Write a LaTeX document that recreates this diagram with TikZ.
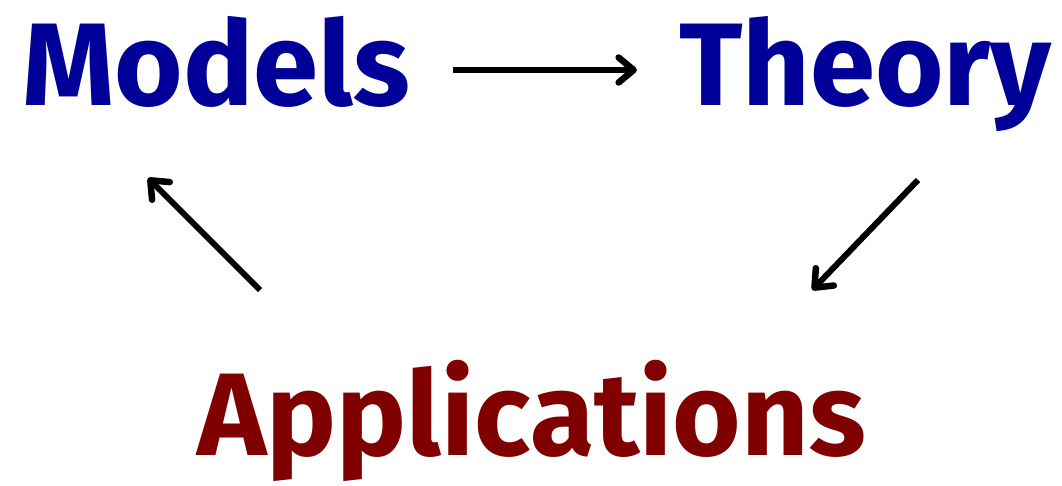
\documentclass[tikz,border=0pt]{standalone}
\usepackage{fontspec}
\setmainfont{Fira Sans}[UprightFont=* Bold]
\usetikzlibrary{arrows.meta}
\definecolor{mblue}{RGB}{0,0,153}
\definecolor{mred}{RGB}{128,0,0}
\tikzset{
  word/.style={inner sep=0pt, font=\fontsize{117.5}{118}\selectfont},
  arr/.style={line width=6pt, -{Straight Barb[length=15pt,width=25pt,line width=6.5pt,round]}}
}
\begin{document}
\begin{tikzpicture}[x=1pt,y=-1pt]
\useasboundingbox (0,0) rectangle (1062,485);
\node[word, text=mblue, anchor=base west] (models) at (22,105) {Models};
\node[word, text=mblue, anchor=base east] (theory) at (1052,105) {Theory};
\node[word, text=mred, anchor=base west] (apps) at (197,455) {Applications};
\draw[arr] ([xshift=43pt,yshift=35pt]models.base east) -- ([xshift=-42pt,yshift=35pt]theory.base west);
\draw[arr] ([xshift=-134pt,yshift=-75pt]theory.base east) -- ([xshift=-54pt,yshift=165pt]apps.base east);
\draw[arr] ([xshift=63pt,yshift=165pt]apps.base west) -- ([xshift=126pt,yshift=-73pt]models.base west);
\end{tikzpicture}
\end{document}
